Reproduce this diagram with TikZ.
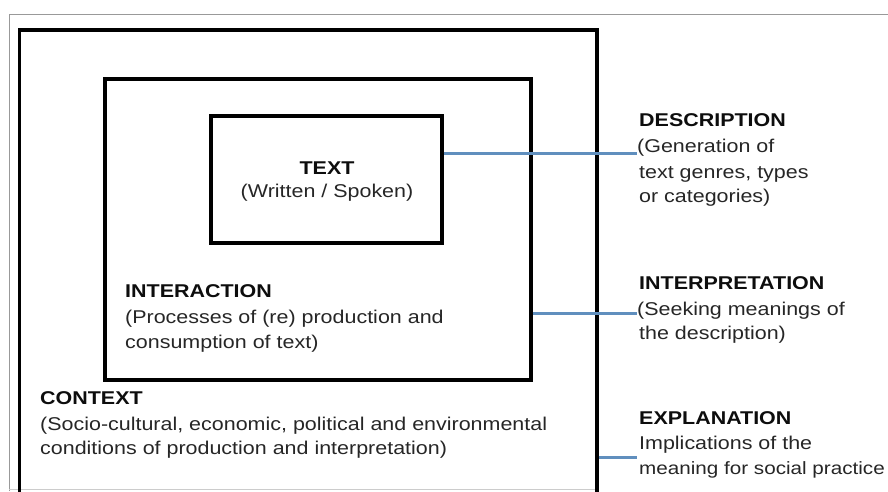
\documentclass[tikz,border=0pt]{standalone}
\usepackage{fontspec}
\setmainfont{Liberation Sans}[FakeStretch=1.16]
\begin{document}
\begin{tikzpicture}[x=1pt,y=-1pt,
  box/.style={draw=black,line width=3.2pt,inner sep=0pt},
  link/.style={draw=linkblue,line width=3pt},
  lbl/.style={anchor=base west,inner sep=0pt,font=\fontsize{18.5}{25}\selectfont,text=black!85},
  head/.style={lbl,font=\fontsize{18.5}{25}\selectfont\bfseries,text=black!95},
  frame/.style={draw=black!40,line width=1pt}]
\definecolor{linkblue}{RGB}{96,143,190}
\useasboundingbox (0,0) rectangle (888,491);
\clip (0,0) rectangle (888,491);
% screenshot frame
\coordinate (f1) at (9,14);
\coordinate (f2) at (888,14);
\coordinate (f3) at (9,491);
\draw[frame] (f3) -- (f1) -- (f2);
\coordinate (b1) at (9,489.5);
\coordinate (b2) at (597,489.5);
\draw[draw=black!20,line width=0.8pt] (b1) -- (b2);
% boxes
\node[box,minimum width=577.5pt,minimum height=490pt] (outer) at (308.25,275) {};
\node[box,minimum width=426pt,minimum height=301pt] (middle) at (318,229.5) {};
\node[box,minimum width=231pt,minimum height=127pt] (inner) at (326.5,179.5) {};
% inner texts
\node[head,anchor=base] (ttext) at (327,174) {TEXT};
\node[lbl,anchor=base] (tsub) at (327,197) {(Written / Spoken)};
\node[head] (inter) at (125,297.5) {INTERACTION};
\node[lbl] (inter1) at (125,323.5) {(Processes of (re) production and};
\node[lbl] (inter2) at (125,348) {consumption of text)};
\node[head] (ctx) at (40,404.5) {CONTEXT};
\node[lbl] (ctx1) at (40,430) {(Socio-cultural, economic, political and environmental};
\node[lbl] (ctx2) at (40,454) {conditions of production and interpretation)};
% right texts
\node[head] (desc) at (639,126.5) {DESCRIPTION};
\node[lbl] (desc1) at (637,152.5) {(Generation of};
\node[lbl] (desc2) at (639,178.5) {text genres, types};
\node[lbl] (desc3) at (639,202.5) {or categories)};
\node[head] (interp) at (639,289.5) {INTERPRETATION};
\node[lbl] (interp1) at (637,315) {(Seeking meanings of};
\node[lbl] (interp2) at (639,339) {the description)};
\node[head] (expl) at (639,424.5) {EXPLANATION};
\node[lbl] (expl1) at (639,449) {Implications of the};
\node[lbl,font=\fontsize{17.8}{25}\selectfont] (expl2) at (639,474) {meaning for social practice};
% connectors
\coordinate (cd) at (637,153);
\coordinate (ci) at (637,313);
\coordinate (ce) at (637,457);
\draw[link] (inner.east |- cd) -- (cd);
\draw[link] (middle.east |- ci) -- (ci);
\draw[link] (outer.east |- ce) -- (ce);
\end{tikzpicture}
\end{document}
